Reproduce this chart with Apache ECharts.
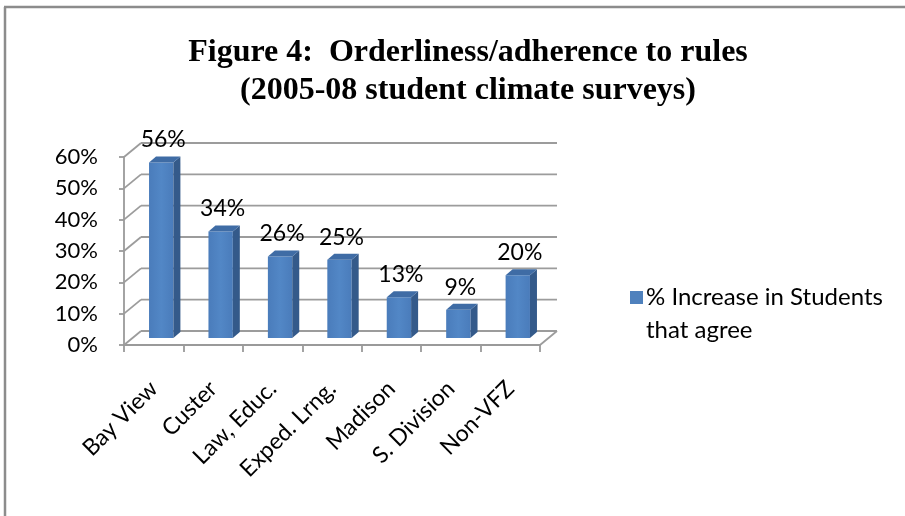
<!DOCTYPE html>
<html>
<head>
<meta charset="utf-8">
<script src="https://cdn.jsdelivr.net/npm/echarts@6/dist/echarts.min.js"></script>
<style>
  html, body { margin: 0; padding: 0; background: #fff; }
  #chart { width: 905px; height: 516px; }
</style>
</head>
<body>
<div id="chart"></div>
<script>
const categories = ['Bay View', 'Custer', 'Law, Educ.', 'Exped. Lrng.', 'Madison', 'S. Division', 'Non-VFZ'];
const increase = [0.56, 0.34, 0.26, 0.25, 0.13, 0.09, 0.20];
const yTicks = [0, 0.1, 0.2, 0.3, 0.4, 0.5, 0.6];
const seriesName = '% Increase in Students that agree';

// 3D look: wall depth and bar depth (pixels)
const WALL_DX = 17, WALL_DY = -14;
const BAR_DX = 7, BAR_DY = -6;

const chart = echarts.init(document.getElementById('chart'));

function renderWalls(params, api) {
  const v = api.value(0);
  const bw = api.size([1, 0])[0];
  const first = api.coord([0, v]);
  const last = api.coord([categories.length - 1, v]);
  const x0 = first[0] - bw / 2, x1 = last[0] + bw / 2, y = first[1];
  const style = { stroke: '#9c9c9c', lineWidth: 1.8 };
  const children = [
    { type: 'line', shape: { x1: x0, y1: y, x2: x0 + WALL_DX, y2: y + WALL_DY }, style },
    { type: 'line', shape: { x1: x0 + WALL_DX, y1: y + WALL_DY, x2: x1 + WALL_DX, y2: y + WALL_DY }, style }
  ];
  if (v === 0) {
    children.push({ type: 'line', shape: { x1: x1, y1: y, x2: x1 + WALL_DX, y2: y + WALL_DY }, style });
  }
  return { type: 'group', silent: true, children };
}

function renderBar(params, api) {
  const i = api.value(0);
  const v = api.value(1);
  const top = api.coord([i, v]);
  const base = api.coord([i, 0]);
  const bw = api.size([1, 0])[0];
  const half = bw * 0.205;
  const cx = top[0] + WALL_DX / 2 - 1;
  const yt = top[1] + WALL_DY / 2;
  const yb = base[1] + WALL_DY / 2;
  const l = cx - half, r = cx + half;
  return {
    type: 'group',
    children: [
      {
        type: 'rect',
        shape: { x: l, y: yt, width: r - l, height: yb - yt },
        style: {
          fill: new echarts.graphic.LinearGradient(0, 0, 1, 0, [
            { offset: 0, color: '#4a7cbb' },
            { offset: 0.5, color: '#5287c6' },
            { offset: 1, color: '#4a7cbb' }
          ])
        }
      },
      {
        type: 'polygon',
        shape: { points: [[r, yt], [r + BAR_DX, yt + BAR_DY], [r + BAR_DX, yb + BAR_DY], [r, yb]] },
        style: { fill: '#345a8a' }
      },
      {
        type: 'polygon',
        shape: { points: [[l, yt], [l + BAR_DX, yt + BAR_DY], [r + BAR_DX, yt + BAR_DY], [r, yt]] },
        style: { fill: '#3f6ca5' }
      },
      {
        type: 'text',
        style: {
          text: Math.round(v * 100) + '%',
          x: cx + 2, y: yt + BAR_DY - 5,
          align: 'center', verticalAlign: 'bottom',
          font: '23px Lato', fill: '#000'
        }
      }
    ]
  };
}

chart.setOption({
  animation: false,
  backgroundColor: '#fff',
  title: {
    text: 'Figure 4:  Orderliness/adherence to rules\n(2005-08 student climate surveys)',
    left: 463, top: 29, textAlign: 'center',
    textStyle: { fontFamily: 'Liberation Serif', fontWeight: 'bold', fontSize: 32, lineHeight: 38, color: '#000' }
  },
  legend: {
    left: 625, top: 276,
    itemWidth: 13, itemHeight: 46, itemGap: 0,
    icon: 'path://M0,0L13,0L13,13L0,13Z M0,46L0.01,46',
    formatter: () => '% Increase in Students\nthat agree',
    textStyle: { fontFamily: 'Lato', fontSize: 24, lineHeight: 33, color: '#000', padding: [0, 0, 0, -2] },
    data: [{ name: seriesName, itemStyle: { color: '#4f81bd' } }]
  },
  grid: { left: 124, right: 365, top: 157, bottom: 171, containLabel: false },
  xAxis: {
    type: 'category',
    data: categories,
    axisLine: { lineStyle: { color: '#9a9a9a', width: 1.8 } },
    axisTick: { show: true, alignWithLabel: false, length: 7, lineStyle: { color: '#9a9a9a', width: 1.8 } },
    axisLabel: { rotate: 45, margin: 40, color: '#000', fontFamily: 'Lato', fontSize: 23, interval: 0 },
    splitLine: { show: false }
  },
  yAxis: {
    type: 'value',
    min: 0, max: 0.6, interval: 0.1,
    axisLine: { show: true, lineStyle: { color: '#9a9a9a', width: 1.8 } },
    axisTick: { show: true, length: 5, lineStyle: { color: '#9a9a9a', width: 1.8 } },
    axisLabel: {
      margin: 26, color: '#000', fontFamily: 'Lato', fontSize: 22,
      formatter: v => Math.round(v * 100) + '%'
    },
    splitLine: { show: false }
  },
  graphic: [
    { type: 'line', shape: { x1: 5, y1: 7, x2: 5, y2: 516 }, style: { stroke: '#8c8c8c', lineWidth: 2.5 } },
    { type: 'line', shape: { x1: 4, y1: 7, x2: 905, y2: 7 }, style: { stroke: '#8c8c8c', lineWidth: 2.5 } }
  ],
  series: [
    {
      type: 'custom',
      name: 'walls',
      renderItem: renderWalls,
      data: yTicks.map(v => [v]),
      encode: { y: 0 },
      z: 1,
      silent: true
    },
    {
      type: 'custom',
      name: seriesName,
      renderItem: renderBar,
      data: increase.map((v, i) => [i, v]),
      encode: { x: 0, y: 1 },
      itemStyle: { color: '#4f81bd' },
      z: 2
    }
  ]
});
</script>
</body>
</html>
